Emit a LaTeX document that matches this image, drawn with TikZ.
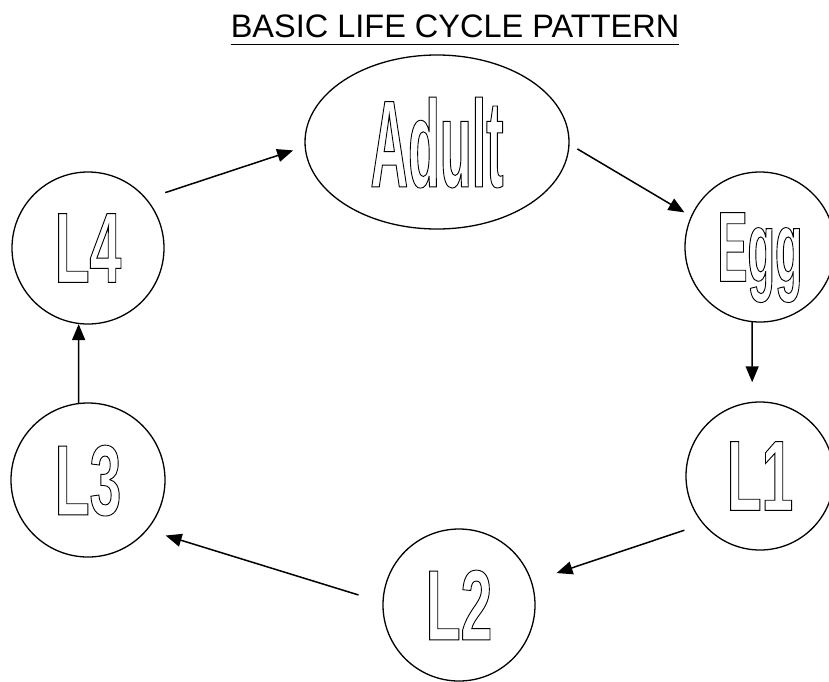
\documentclass[tikz,border=0pt]{standalone}
\usepackage{fontspec}
\setmainfont{Liberation Sans}
\newfontfamily\stagefont{Liberation Sans Bold}
\usetikzlibrary{arrows.meta,shapes.geometric}

% hollow (outlined) lettering: stretch, size, text
\newcommand{\hollow}[3]{{\stagefont\fontsize{#2}{#2}\selectfont\addfontfeatures{FakeStretch=#1}%
  \special{pdf:literal direct 1 Tr 0.9 w}#3\special{pdf:literal direct 0 Tr}}}

\tikzset{
  stage/.style={circle,draw,line width=1.3pt,inner sep=0pt,minimum size=#1,text depth=0pt},
  cyclearrow/.style={-{Triangle[length=16pt,width=13pt]},line width=1.5pt},
}

\begin{document}
\begin{tikzpicture}[x=1pt,y=-1pt]
	\useasboundingbox (0,0) rectangle (829,681);
	
	\node[font=\fontsize{32.5}{36}\selectfont,inner sep=0pt,anchor=base] (title) at (455,37) {BASIC LIFE CYCLE PATTERN};
	\draw[line width=1.4pt] ([yshift=-7.5pt]title.base west) -- ([yshift=-7.5pt]title.base east);
	
	\node[ellipse,draw,line width=1.3pt,inner sep=0pt,minimum width=264pt,minimum height=174pt,text depth=0pt] (adult) at (437,142) {\hollow{0.42}{124}{Adult}};
	\node[stage=150pt] (egg) at (760,247) {\hollow{0.45}{100}{Egg}};
	\node[stage=148pt] (lone) at (760,476) {\hollow{0.57}{100}{L1}};
	\node[stage=152pt] (ltwo) at (459,605) {\hollow{0.57}{100}{L2}};
	\node[stage=154pt] (lthree) at (88,480) {\hollow{0.57}{100}{L3}};
	\node[stage=152pt] (lfour) at (88,248) {\hollow{0.57}{100}{L4}};
	
	\draw[cyclearrow,shorten <=19.5pt,shorten >=12pt] (lfour.40) -- (adult.182);
	\draw[cyclearrow,shorten <=9pt,shorten >=7.5pt] (adult.-1) -- (egg.156);
	\draw[cyclearrow,shorten >=19.5pt] (egg.264) -- (lone.96);
	\draw[cyclearrow,shorten <=19.5pt,shorten >=26pt] (lone.220) -- (ltwo.18);
	\draw[cyclearrow,shorten <=25pt,shorten >=19pt] (ltwo.178) -- (lthree.-40);
	\draw[cyclearrow] (lthree.97) -- (lfour.263);
\end{tikzpicture}
\end{document}
